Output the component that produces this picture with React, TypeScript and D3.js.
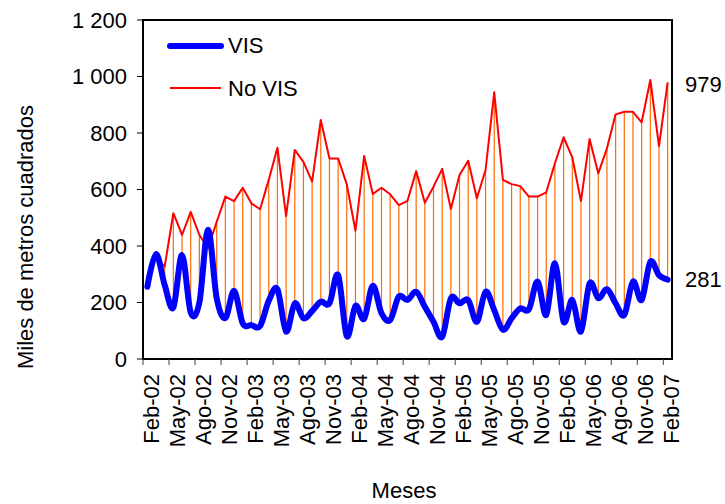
import React from "react";
import * as d3 from "d3";

const months = ["Ene", "Feb", "Mar", "Abr", "May", "Jun", "Jul", "Ago", "Sep", "Oct", "Nov", "Dic"];
// Feb-02 .. Feb-07 (61 months)
const categories: string[] = Array.from({ length: 61 }, (_, i) => {
  const m = (1 + i) % 12;
  const y = 2002 + Math.floor((1 + i) / 12);
  return `${months[m]}-${String(y).slice(2)}`;
});

const noVis = [291, 360, 327, 516, 439, 521, 439, 392, 486, 575, 559, 606, 551, 530, 634, 748, 506, 740, 698, 628,
  846, 710, 710, 618, 454, 719, 584, 606, 583, 545, 560, 665, 553, 610, 673, 531, 651, 702, 569, 669,
  944, 634, 619, 612, 575, 575, 590, 693, 785, 714, 559, 779, 657, 746, 866, 875, 875, 838, 988, 754, 979];

const vis = [256, 372, 262, 182, 368, 165, 200, 457, 215, 145, 241, 126, 120, 117, 206, 247, 97, 197, 144, 170,
  203, 197, 297, 81, 188, 142, 259, 162, 138, 221, 209, 238, 185, 132, 79, 215, 197, 209, 132, 238,
  173, 103, 144, 179, 176, 274, 156, 339, 132, 209, 97, 268, 215, 247, 197, 156, 274, 209, 344, 297, 281];

const yTicks = [0, 200, 400, 600, 800, 1000, 1200];
const yTickLabels = ["0", "200", "400", "600", "800", "1 000", "1 200"];
const seriesNames = ["VIS", "No VIS"];
const endLabels = ["281", "979"];

const FONT = "'Liberation Sans', Arial, sans-serif";

export default function App() {
  const W = 725, H = 504;
  const left = 143, right = 672, top = 20, bottom = 359;
  const x = d3.scaleBand<number>().domain(categories.map((_, i) => i)).range([left, right]).padding(0);
  const bw = x.bandwidth();
  const cx = (i: number) => (x(i) as number) + bw / 2;
  const y = d3.scaleLinear().domain([0, 1200]).range([bottom, top]);

  const redLine = d3.line<number>().x((_, i) => cx(i)).y((d) => y(d))(noVis) || "";
  const blueLine = d3.line<number>().x((_, i) => cx(i)).y((d) => y(d)).curve(d3.curveCardinal.tension(0))(vis) || "";

  const tickIdx = categories.map((_, i) => i).filter((i) => i % 3 === 0);

  return (
    <svg width={W} height={H} style={{ position: "absolute", left: 0, top: 0, background: "#fff" }} fontFamily={FONT}>
      <rect x={0} y={0} width={W} height={H} fill="#fff" />
      {/* high-low lines */}
      {categories.map((_, i) => (
        <line key={"hl" + i} x1={cx(i)} x2={cx(i)} y1={y(Math.max(vis[i], noVis[i]))} y2={y(Math.min(vis[i], noVis[i]))}
          stroke="#ff6a00" strokeWidth={1.2} />
      ))}
      <path d={redLine} fill="none" stroke="#ff0000" strokeWidth={2} strokeLinejoin="round" />
      <path d={blueLine} fill="none" stroke="#0000ff" strokeWidth={6} strokeLinejoin="round" strokeLinecap="round" />

      {/* frame */}
      <rect x={left} y={top} width={right - left} height={bottom - top} fill="none" stroke="#000" strokeWidth={2} />

      {/* y axis */}
      {yTicks.map((t, k) => (
        <g key={"yt" + t}>
          <line x1={left - 6} x2={left} y1={y(t)} y2={y(t)} stroke="#000" strokeWidth={1} />
          <text x={127} y={y(t)} dy="0.36em" textAnchor="end" fontSize={22} fill="#000">{yTickLabels[k]}</text>
        </g>
      ))}
      {/* x axis */}
      {tickIdx.map((i) => (
        <g key={"xt" + i}>
          <line x1={x(i) as number} x2={x(i) as number} y1={bottom} y2={bottom + 6} stroke="#444" strokeWidth={1} />
          <text transform={`translate(${cx(i) + 4},374) rotate(-90)`} dy="0.35em" textAnchor="end" fontSize={22} fill="#000">
            {categories[i]}
          </text>
        </g>
      ))}

      {/* axis titles */}
      <text transform="translate(33,237) rotate(-90)" textAnchor="middle" fontSize={22} fill="#000">Miles de metros cuadrados</text>
      <text x={404} y={498} textAnchor="middle" fontSize={22} fill="#000">Meses</text>

      {/* legend */}
      <line x1={170} x2={221} y1={46} y2={46} stroke="#0000ff" strokeWidth={6} strokeLinecap="round" />
      <text x={228} y={53} fontSize={22} fill="#000">{seriesNames[0]}</text>
      <line x1={170} x2={221} y1={88} y2={88} stroke="#ff0000" strokeWidth={2} />
      <text x={228} y={96} fontSize={22} fill="#000">{seriesNames[1]}</text>

      {/* end labels */}
      <text x={685} y={y(noVis[60]) + 2} dy="0.35em" fontSize={22} fill="#000">{endLabels[1]}</text>
      <text x={685} y={y(vis[60])} dy="0.35em" fontSize={22} fill="#000">{endLabels[0]}</text>
    </svg>
  );
}
